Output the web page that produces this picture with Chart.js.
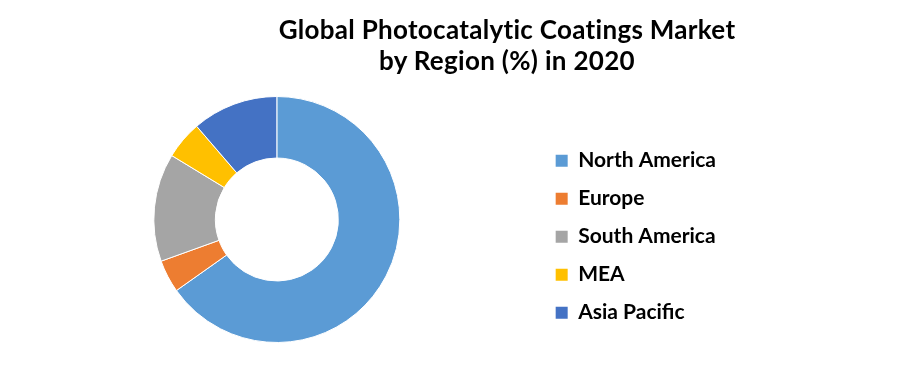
<!DOCTYPE html>
<html><head><meta charset="utf-8">
<script src="https://cdn.jsdelivr.net/npm/chart.js@4.4.0/dist/chart.umd.min.js"></script>
<style>
html,body{margin:0;padding:0;background:#fff;}
#wrap{position:relative;width:897px;height:383px;overflow:hidden;}
#title{position:absolute;left:207px;width:600px;top:14px;text-align:center;font-family:Lato,"Open Sans",sans-serif;font-weight:bold;font-size:26px;letter-spacing:0.3px;line-height:31px;color:#000;}
canvas{position:absolute;left:0;top:0;}
</style></head>
<body>
<div id="wrap">
<canvas id="c" width="897" height="383"></canvas>
<div id="title">Global Photocatalytic Coatings Market<br>by Region (%) in 2020</div>
</div>
<script>
const regions = ["North America", "Europe", "South America", "MEA", "Asia Pacific"];
const shares = [65.2, 4.3, 14.2, 5.0, 11.3];
const colors = ["#5B9BD5", "#ED7D31", "#A5A5A5", "#FFC000", "#4472C4"];

const chart = new Chart(document.getElementById('c'), {
  type: 'doughnut',
  data: {
    labels: regions,
    datasets: [{
      data: shares,
      backgroundColor: colors,
      borderColor: '#ffffff',
      borderWidth: 1
    }]
  },
  options: {
    responsive: false,
    animation: false,
    cutout: '50%',
    layout: { padding: { left: 15, right: 171, top: 96, bottom: 40 } },
    plugins: {
      tooltip: { enabled: false },
      title: { display: false },
      legend: {
        position: 'right',
        align: 'center',
        fullSize: false,
        title: { display: true, text: '', font: { size: 12 }, padding: { top: 10, bottom: 10 } },
        labels: {
          boxWidth: 12,
          boxHeight: 12,
          padding: 17,
          color: '#000000',
          font: { family: 'Lato, "Open Sans", sans-serif', weight: 'bold', size: 21 },
          generateLabels: function (ch) {
            const items = Chart.overrides.doughnut.plugins.legend.labels.generateLabels(ch);
            return items.map(it => Object.assign(it, { strokeStyle: it.fillStyle, lineWidth: 0 }));
          }
        }
      }
    }
  }
});
</script>
</body></html>
